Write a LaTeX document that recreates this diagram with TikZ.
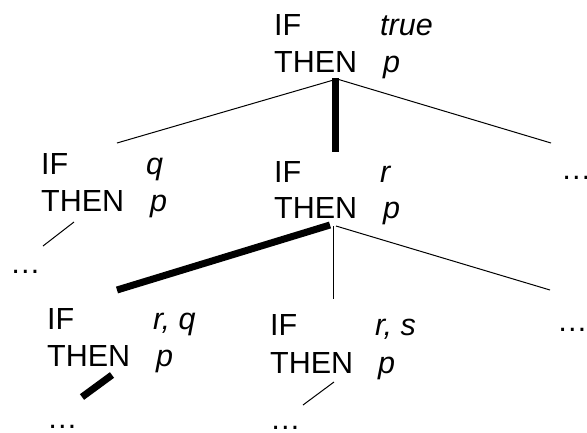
\documentclass[tikz,border=0pt]{standalone}
\usepackage{fontspec}
\setmainfont{Liberation Sans}
\begin{document}
\begin{tikzpicture}[x=1pt,y=-1pt,
  lbl/.style={anchor=base west,inner sep=0pt,font=\fontsize{30.5}{36}\selectfont},
  var/.style={lbl,font=\fontsize{30.5}{36}\selectfont\itshape},
  thinline/.style={line width=1pt},
  thickline/.style={line width=7pt}]
\useasboundingbox (0,0) rectangle (587,432);
% top node
\node[lbl] (tif) at (274,35) {IF};
\node[lbl] (tthen) at (274,72) {THEN};
\node[var] (tcond) at (380,35) {true};
\node[var] (tconc) at (383,72) {p};
% left node
\node[lbl] (lif) at (41,174) {IF};
\node[lbl] (lthen) at (41,211) {THEN};
\node[var] (lcond) at (146,174) {q};
\node[var] (lconc) at (150,211) {p};
\node[lbl] (ldots) at (10,273) {…};
% middle node
\node[lbl] (mif) at (274,182) {IF};
\node[lbl] (mthen) at (274,218) {THEN};
\node[var] (mcond) at (380,182) {r};
\node[var] (mconc) at (383,218) {p};
% right top dots
\node[lbl] (rdots) at (561,179) {…};
% bottom left node
\node[lbl] (blif) at (47,329) {IF};
\node[lbl] (blthen) at (47,366) {THEN};
\node[var] (blcond) at (153,329) {r, q};
\node[var] (blconc) at (156,366) {p};
\node[lbl] (bldots) at (47,428) {…};
% bottom middle node
\node[lbl] (bmif) at (270,335) {IF};
\node[lbl] (bmthen) at (270,373) {THEN};
\node[var] (bmcond) at (375,335) {r, s};
\node[var] (bmconc) at (378,373) {p};
\node[lbl] (bmdots) at (270,429) {…};
% bottom right dots
\node[lbl] (brdots) at (557,331) {…};
% connector end points
\coordinate (ta) at (337,79);
\coordinate (tb) at (335,78);
\coordinate (tl) at (117,143);
\coordinate (tm) at (335,152);
\coordinate (tr) at (551,143);
\coordinate (la) at (74,222);
\coordinate (lb) at (43,246);
\coordinate (ma) at (330,225);
\coordinate (mb) at (117,290);
\coordinate (mc) at (333,226);
\coordinate (md) at (333,299);
\coordinate (me) at (336,226);
\coordinate (mf) at (550,290);
\coordinate (bla) at (112,375);
\coordinate (blb) at (82,397);
\coordinate (bma) at (334,382);
\coordinate (bmb) at (303,405);
% connectors
\draw[thinline] (ta) -- (tl);
\draw[thickline] (tb) -- (tm);
\draw[thinline] (ta) -- (tr);
\draw[thinline] (la) -- (lb);
\draw[thickline] (ma) -- (mb);
\draw[thinline] (mc) -- (md);
\draw[thinline] (me) -- (mf);
\draw[thickline] (bla) -- (blb);
\draw[thinline] (bma) -- (bmb);
\end{tikzpicture}
\end{document}
